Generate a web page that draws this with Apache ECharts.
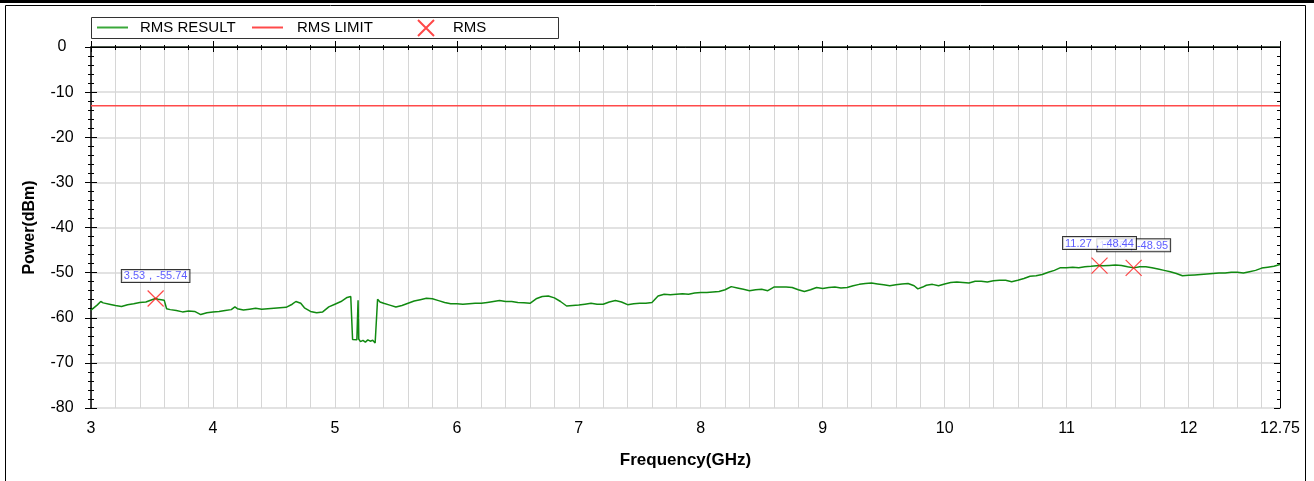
<!DOCTYPE html>
<html>
<head>
<meta charset="utf-8">
<script src="https://cdn.jsdelivr.net/npm/echarts@6.0.0/dist/echarts.min.js"></script>
<style>
html,body{margin:0;padding:0;background:#fff;}
#chart{width:1314px;height:481px;}
</style>
</head>
<body>
<div id="chart"></div>
<script>
// ---- data ----
const resultFreq = [
3.00,3.05,3.08,3.10,3.15,3.20,3.25,3.30,3.35,3.40,3.45,3.50,3.53,3.55,3.60,3.62,3.65,3.70,3.75,3.80,
3.85,3.90,3.95,4.00,4.05,4.10,4.15,4.18,4.20,4.25,4.30,4.35,4.40,4.45,4.50,4.55,4.60,4.65,4.68,4.72,
4.75,4.80,4.85,4.90,4.95,5.00,5.05,5.10,5.13,5.14,5.145,5.16,5.18,5.19,5.195,5.21,5.23,5.25,5.27,5.29,
5.31,5.33,5.345,5.35,5.37,5.40,5.45,5.50,5.55,5.60,5.65,5.70,5.75,5.80,5.85,5.90,5.95,6.00,6.05,6.10,
6.15,6.20,6.25,6.30,6.35,6.40,6.45,6.50,6.55,6.60,6.65,6.70,6.75,6.80,6.85,6.90,6.95,7.00,7.05,7.10,
7.15,7.20,7.25,7.30,7.35,7.40,7.45,7.50,7.55,7.60,7.65,7.70,7.75,7.80,7.85,7.90,7.95,8.00,8.05,8.10,
8.15,8.20,8.25,8.30,8.35,8.40,8.45,8.50,8.55,8.60,8.65,8.70,8.75,8.80,8.85,8.90,8.95,9.00,9.05,9.10,
9.15,9.20,9.25,9.30,9.35,9.40,9.45,9.50,9.55,9.60,9.65,9.70,9.75,9.78,9.82,9.85,9.90,9.95,10.00,10.05,
10.10,10.15,10.20,10.25,10.30,10.35,10.40,10.45,10.50,10.55,10.60,10.65,10.70,10.75,10.80,10.85,10.90,10.95,11.00,11.05,
11.10,11.15,11.20,11.27,11.30,11.35,11.40,11.45,11.50,11.55,11.60,11.65,11.70,11.75,11.80,11.85,11.90,11.95,12.00,12.05,
12.10,12.15,12.20,12.25,12.30,12.35,12.40,12.45,12.50,12.55,12.60,12.65,12.70,12.75
];
const resultDbm = [
-58.3,-57.2,-56.4,-56.7,-57.0,-57.3,-57.5,-57.1,-56.9,-56.6,-56.5,-56.0,-55.74,-55.9,-56.1,-58.0,-58.2,-58.4,-58.7,-58.5,
-58.6,-59.3,-58.9,-58.7,-58.6,-58.4,-58.2,-57.6,-58.0,-58.3,-58.1,-57.9,-58.1,-58.0,-57.9,-57.8,-57.7,-57.0,-56.4,-56.8,
-57.8,-58.6,-58.9,-58.7,-57.6,-57.0,-56.4,-55.5,-55.3,-55.5,-64.8,-65.2,-64.9,-56.1,-64.7,-65.3,-65.0,-65.4,-64.9,-65.2,
-65.0,-65.6,-65.8,-55.9,-56.5,-56.8,-57.2,-57.6,-57.3,-56.8,-56.3,-56.0,-55.7,-55.8,-56.2,-56.6,-56.9,-56.9,-57.0,-56.9,
-56.8,-56.8,-56.6,-56.4,-56.2,-56.4,-56.4,-56.6,-56.7,-56.8,-55.8,-55.3,-55.2,-55.6,-56.4,-57.4,-57.3,-57.2,-57.0,-56.8,
-57.0,-57.0,-56.5,-56.2,-56.5,-57.1,-56.9,-56.8,-56.8,-56.6,-55.2,-54.8,-54.9,-54.8,-54.7,-54.8,-54.5,-54.4,-54.4,-54.3,
-54.2,-53.8,-53.1,-53.4,-53.7,-54.0,-53.8,-53.7,-54.0,-53.2,-53.2,-53.2,-53.3,-53.8,-54.2,-53.8,-53.3,-53.5,-53.3,-53.2,
-53.4,-53.3,-52.9,-52.6,-52.4,-52.3,-52.5,-52.7,-52.9,-52.7,-52.5,-52.4,-52.9,-53.6,-53.2,-52.8,-52.6,-52.9,-52.5,-52.2,
-52.1,-52.2,-52.3,-51.9,-51.9,-52.1,-51.8,-51.7,-51.7,-52.0,-51.7,-51.3,-50.8,-50.7,-50.4,-49.9,-49.5,-48.9,-48.9,-48.8,
-48.9,-48.7,-48.6,-48.44,-48.5,-48.4,-48.3,-48.4,-48.7,-48.95,-48.7,-48.7,-48.9,-49.2,-49.5,-49.8,-50.2,-50.7,-50.6,-50.5,
-50.4,-50.3,-50.2,-50.1,-50.1,-49.9,-49.9,-50.1,-49.8,-49.5,-49.0,-48.8,-48.6,-48.2
];
const limitFreq = [3, 12.75];
const limitDbm = [-13, -13];
const markerFreq = [3.53, 11.55, 11.27];
const markerDbm = [-55.74, -48.95, -48.44];
const seriesNames = ['RMS RESULT', 'RMS LIMIT', 'RMS'];
const axisNames = {x: 'Frequency(GHz)', y: 'Power(dBm)'};

const FONT = '"Liberation Sans", Arial, sans-serif';
const chart = echarts.init(document.getElementById('chart'), null, {renderer: 'canvas'});

function xAx(pos, interval, opts) {
  return Object.assign({
    type: 'value', position: pos, min: 3, max: 12.75, interval: interval,
    axisLine: {show: false},
    axisTick: {show: true, inside: false, length: 3, lineStyle: {color: '#000', width: 1}},
    axisLabel: {show: false},
    splitLine: {show: false}
  }, opts || {});
}
function yAx(pos, interval, opts) {
  return Object.assign({
    type: 'value', position: pos, min: -80, max: 0, interval: interval,
    axisLine: {show: false},
    axisTick: {show: true, inside: false, length: 3, lineStyle: {color: '#000', width: 1}},
    axisLabel: {show: false},
    splitLine: {show: false}
  }, opts || {});
}

const option = {
  animation: false,
  backgroundColor: '#fff',
  grid: {left: 91, top: 47, width: 1189, height: 361, containLabel: false},
  graphic: [
    {type: 'rect', shape: {x: 0, y: 0, width: 1314, height: 3}, style: {fill: '#000'}, silent: true},
    {type: 'rect', shape: {x: 5.5, y: 5.5, width: 1300, height: 490}, style: {fill: 'none', stroke: '#000', lineWidth: 1}, silent: true},
    {type: 'rect', shape: {x: 91.5, y: 17.5, width: 467, height: 21}, style: {fill: 'none', stroke: '#333', lineWidth: 1}, silent: true, z: 10}
  ],
  legend: [
    {data: [{name: seriesNames[0], icon: 'rect'}], left: 97, top: 20, padding: 0, itemWidth: 31, itemHeight: 2,
     textStyle: {fontFamily: FONT, fontSize: 15, color: '#000', padding: [0, 0, 0, 7]}},
    {data: [{name: seriesNames[1], icon: 'rect'}], left: 252, top: 20, padding: 0, itemWidth: 31, itemHeight: 2,
     textStyle: {fontFamily: FONT, fontSize: 15, color: '#000', padding: [0, 0, 0, 9]}},
    {data: [seriesNames[2]], left: 417, top: 19, padding: 0, itemWidth: 16, itemHeight: 16,
     textStyle: {fontFamily: FONT, fontSize: 15, color: '#000', padding: [0, 0, 0, 14]}}
  ],
  xAxis: [
    xAx('bottom', 1, {
      axisLine: {show: true, lineStyle: {color: '#1a2a1a', width: 1.5}},
      axisTick: {show: true, inside: false, length: 5, lineStyle: {color: '#000'}},
      axisLabel: {show: true, fontFamily: FONT, fontSize: 16, color: '#000', margin: 13,
                  showMinLabel: true, showMaxLabel: true},
      name: axisNames.x, nameLocation: 'middle', nameGap: 44,
      nameTextStyle: {fontFamily: FONT, fontSize: 17, fontWeight: 'bold', color: '#000'}
    }),
    xAx('bottom', 1, {axisTick: {show: true, inside: true, length: 6, lineStyle: {color: '#000'}}}),
    xAx('bottom', 0.2, {
      axisTick: {show: true, inside: false, length: 3, lineStyle: {color: '#000'}},
      splitLine: {show: true, lineStyle: {color: '#d6d6d6', width: 1}}
    }),
    xAx('bottom', 0.2, {axisTick: {show: true, inside: true, length: 2, lineStyle: {color: '#000'}}}),
    xAx('top', 1, {
      axisLine: {show: true, lineStyle: {color: '#000', width: 1}},
      axisTick: {show: true, inside: true, length: 5, lineStyle: {color: '#000'}}
    }),
    xAx('top', 0.2, {axisTick: {show: true, inside: true, length: 3, lineStyle: {color: '#000'}}})
  ],
  yAxis: [
    yAx('left', 10, {
      axisLine: {show: true, lineStyle: {color: '#000', width: 1.5}},
      axisTick: {show: true, inside: false, length: 6, lineStyle: {color: '#000'}},
      axisLabel: {show: true, fontFamily: FONT, fontSize: 16, color: '#000', margin: 29, align: 'center'},
      splitLine: {show: true, lineStyle: {color: '#e2e2e2', width: 2}},
      name: axisNames.y, nameLocation: 'middle', nameGap: 53, nameRotate: 90,
      nameTextStyle: {fontFamily: FONT, fontSize: 16, fontWeight: 'bold', color: '#000'}
    }),
    yAx('left', 10, {axisTick: {show: true, inside: true, length: 6, lineStyle: {color: '#000'}}}),
    yAx('left', 2, {axisTick: {show: true, inside: false, length: 3, lineStyle: {color: '#000'}}}),
    yAx('left', 2, {axisTick: {show: true, inside: true, length: 3, lineStyle: {color: '#000'}}}),
    yAx('right', 10, {
      axisLine: {show: true, lineStyle: {color: '#000', width: 1}},
      axisTick: {show: true, inside: true, length: 6, lineStyle: {color: '#000'}}
    }),
    yAx('right', 2, {axisTick: {show: true, inside: true, length: 3, lineStyle: {color: '#000'}}})
  ],
  series: [
    {
      name: seriesNames[0], type: 'line', xAxisIndex: 0, yAxisIndex: 0,
      symbol: 'none', showSymbol: false,
      lineStyle: {color: '#118a11', width: 1.5},
      itemStyle: {color: '#3aa83a'},
      data: resultFreq.map((f, i) => [f, resultDbm[i]]),
      z: 3
    },
    {
      name: seriesNames[1], type: 'line', xAxisIndex: 0, yAxisIndex: 0,
      symbol: 'none', showSymbol: false,
      lineStyle: {color: '#ff4a4a', width: 1.5},
      itemStyle: {color: '#ff4a4a'},
      data: limitFreq.map((f, i) => [f, limitDbm[i]]),
      z: 3
    },
    {
      name: seriesNames[2], type: 'scatter', xAxisIndex: 0, yAxisIndex: 0,
      symbol: 'path://M0,0L16,16M16,0L0,16', symbolSize: 16,
      itemStyle: {color: 'rgba(0,0,0,0)', borderColor: '#ff1a1a', borderWidth: 1.2},
      label: {
        show: true, position: 'top', distance: 8,
        formatter: p => p.value[0].toFixed(2) + '，' + p.value[1].toFixed(2),
        fontFamily: FONT, fontSize: 11, color: '#3535ff',
        backgroundColor: '#fff', borderColor: '#000', borderWidth: 1, padding: [1, 2, 0, 2]
      },
      data: markerFreq.map((f, i) => [f, markerDbm[i]]),
      z: 5
    }
  ]
};
chart.setOption(option);
</script>
</body>
</html>
